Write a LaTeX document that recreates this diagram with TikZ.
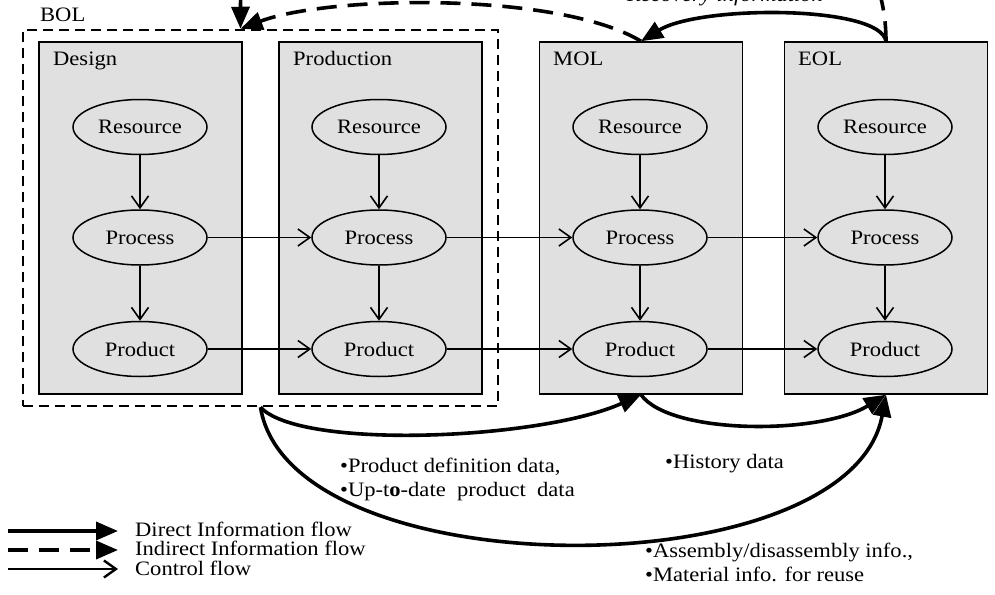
\documentclass[tikz,border=0pt]{standalone}
\usepackage{fontspec}
\setmainfont[FakeStretch=1.1]{Liberation Serif}
\usepackage{tikz}
\usetikzlibrary{arrows.meta, positioning, fit, shapes.geometric}

\begin{document}
\begin{tikzpicture}[
  x=1pt, y=-1pt,
  every node/.style={font=\fontsize{20.5}{24}\selectfont},
  ctrl/.style={-{Straight Barb[length=12pt,width=17pt]}, line width=1.6pt},
  direct/.style={-{Triangle[length=22pt,width=18pt]}, line width=3.6pt},
  indirect/.style={direct, dash pattern=on 20pt off 11pt},
  lane/.style={draw, line width=1.5pt, fill=black!12, inner sep=0pt,
               minimum width=203pt, minimum height=352pt},
  entity/.style={draw, ellipse, line width=1.5pt, fill=black!12, inner sep=0pt,
                 minimum width=134pt, minimum height=55pt},
  bolbox/.style={draw, line width=2pt, dash pattern=on 10pt off 6pt,
                 inner xsep=15pt, inner ysep=11.5pt},
  lbl/.style={anchor=base west, inner sep=0pt},
  note/.style={anchor=base west, inner sep=0pt},
]
\clip (0,0) rectangle (995,594);

% life cycle phases
\node[lane] (design) at (140.5,218) {};
\node[lane] (prod)   at (380.5,218) {};
\node[lane] (mol)    at (641,218)   {};
\node[lane] (eol)    at (886,218)   {};
\node[bolbox, fit=(design)(prod)] (bol) {};
\node[lbl] (bolname)  at (40,22)    {BOL};
\node[lbl] (dname)    at (53,65.5)  {Design};
\node[lbl] (pname)    at (293,65.5) {Production};
\node[lbl] (mname)    at (553,65.5) {MOL};
\node[lbl] (ename)    at (798,65.5) {EOL};

\node[entity] (dres)  at (140,127) {Resource};
\node[entity] (dproc) [below=54pt of dres]  {Process};
\node[entity] (dprod) [below=55pt of dproc] {Product};
\node[entity] (pres)  at (379,127) {Resource};
\node[entity] (pproc) [below=54pt of pres]  {Process};
\node[entity] (pprod) [below=55pt of pproc] {Product};
\node[entity] (mres)  at (640,127) {Resource};
\node[entity] (mproc) [below=54pt of mres]  {Process};
\node[entity] (mprod) [below=55pt of mproc] {Product};
\node[entity] (eres)  at (885,127) {Resource};
\node[entity] (eproc) [below=54pt of eres]  {Process};
\node[entity] (eprod) [below=55pt of eproc] {Product};

\draw[ctrl] (dres) -- (dproc);
\draw[ctrl] (dproc) -- (dprod);
\draw[ctrl] (pres) -- (pproc);
\draw[ctrl] (pproc) -- (pprod);
\draw[ctrl] (mres) -- (mproc);
\draw[ctrl] (mproc) -- (mprod);
\draw[ctrl] (eres) -- (eproc);
\draw[ctrl] (eproc) -- (eprod);
\draw[ctrl] (dproc) -- (pproc);
\draw[ctrl] (pproc) -- (mproc);
\draw[ctrl] (mproc) -- (eproc);
\draw[ctrl] (dprod) -- (pprod);
\draw[ctrl] (pprod) -- (mprod);
\draw[ctrl] (mprod) -- (eprod);

% information flows
\coordinate (bolin) at ([xshift=-20pt]bol.north);
\draw[direct] (bol.south) .. controls (300,450) and (540,440) .. (mol.south);
\draw[direct] (mol.south) .. controls (670,435) and (820,435) .. (eol.south);
\draw[direct] (bol.south) .. controls (290,590) and (850,590) .. (eol.south);
\draw[direct] (eol.north) .. controls (880,5) and (700,5) .. (mol.north);
\draw[indirect] (mol.north) .. controls (560,-8) and (330,-5) .. (bolin);
\draw[indirect] (eol.north) .. controls (886,-250) and (240,-250) .. (bolin);

\node[anchor=base] (recov) at (725,2) {\itshape Recovery information};
\node[note] (defdata) at (340,472) {\textbullet Product definition data,};
\node[note] (upddata) at (340,496) {\textbullet Up-t\textbf{o}-date\ \ product\ \ data};
\node[note] (hisdata) at (665,468) {\textbullet History data};
\node[note] (asmdata) at (645,557) {\textbullet Assembly/disassembly info.,};
\node[note] (matdata) at (645,581) {\textbullet Material info. for reuse};

% legend
\coordinate (d0) at (8,531);  \coordinate (d1) at (118,531);
\coordinate (i0) at (8,550);  \coordinate (i1) at (118,550);
\coordinate (c0) at (8,569);  \coordinate (c1) at (118,569);
\draw[direct] (d0) -- (d1);
\draw[indirect] (i0) -- (i1);
\draw[ctrl, line width=2.4pt] (c0) -- (c1);
\node[note] (dlegend) at (135,536) {Direct Information flow};
\node[note] (ilegend) at (135,555.5) {Indirect Information flow};
\node[note] (clegend) at (135,575) {Control flow};
\end{tikzpicture}
\end{document}
